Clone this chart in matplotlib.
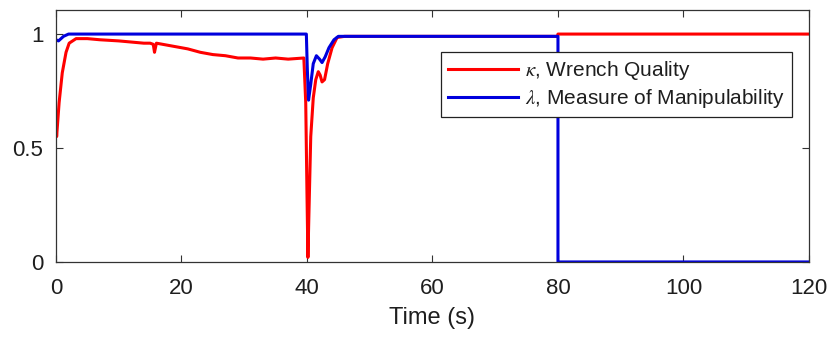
import matplotlib
matplotlib.use("Agg")
import matplotlib.pyplot as plt

plt.rcParams['font.family'] = ['Liberation Sans', 'DejaVu Sans']
plt.rcParams['mathtext.fontset'] = 'stix'

# kappa: wrench quality over time
kappa_t = [0, 0.1, 0.5, 1.0, 1.6, 2.1, 3.2, 4, 5, 7, 10, 12, 14, 15, 15.5, 15.7,
           16, 17, 19, 21, 23, 25, 27, 29, 31, 33, 35, 37, 39.5, 39.8, 40.0, 40.15,
           40.3, 40.6, 41.0, 41.4, 41.8, 42.1, 42.4, 42.8, 43.3, 44.0, 44.8, 46, 50,
           55, 60, 65, 70, 75, 79.9, 80.0, 120]
kappa_v = [0.63, 0.55, 0.70, 0.83, 0.92, 0.96, 0.98, 0.98, 0.98, 0.975, 0.97,
           0.965, 0.96, 0.96, 0.955, 0.92, 0.96, 0.955, 0.945, 0.935, 0.92, 0.91, 0.905,
           0.895, 0.895, 0.89, 0.895, 0.89, 0.895, 0.70, 0.30, 0.02, 0.20, 0.55, 0.72,
           0.80, 0.835, 0.82, 0.79, 0.80, 0.87, 0.94, 0.985, 0.99, 0.99, 0.99, 0.99,
           0.99, 0.99, 0.99, 0.99, 1.0, 1.0]

# lambda: measure of manipulability over time
lam_t = [0, 0.4, 0.8, 1.2, 2, 39.9, 40.05, 40.25, 40.6, 41.0, 41.5, 42.0, 42.4, 42.9,
         43.5, 44.3, 45, 80, 80, 120]
lam_v = [0.975, 0.97, 0.98, 0.99, 1.0, 1.0, 0.85, 0.71, 0.78, 0.87, 0.905, 0.89,
         0.875, 0.90, 0.94, 0.975, 0.99, 0.99, 0.0, 0.0]

labels = [r'$\kappa$, Wrench Quality', r'$\lambda$, Measure of Manipulability']
xticks = [0, 20, 40, 60, 80, 100, 120]
yticks = [0, 0.5, 1]
ytick_labels = ['0', '0.5', '1']

text_color = '#1e1e1e'

fig = plt.figure(figsize=(8.32, 3.38), dpi=100)
ax = fig.add_axes([0.0673, 0.225, 0.9050, 0.745])

ax.plot(kappa_t, kappa_v, color='#ff0000', lw=2.2, label=labels[0])
ax.plot(lam_t, lam_v, color='#0000dd', lw=2.2, label=labels[1])

ax.set_xlim(0, 120)
ax.set_ylim(0, 1.105)
ax.set_xticks(xticks)
ax.set_yticks(yticks)
ax.set_yticklabels(ytick_labels)
ax.tick_params(direction='in', length=5, width=0.8, top=True, right=True,
               labelsize=16, colors='#333333', labelcolor=text_color)
ax.tick_params(axis='x', pad=11.5)
ax.tick_params(axis='y', pad=9)
for s in ax.spines.values():
    s.set_linewidth(0.9)
    s.set_color('#333333')

ax.set_xlabel('Time (s)', fontsize=17, color=text_color, labelpad=6)

leg = ax.legend(loc='upper right', bbox_to_anchor=(0.978, 0.835),
                prop={'size': 15},
                handlelength=3.35, fancybox=False, framealpha=1, edgecolor='#222222',
                borderpad=0.35, labelspacing=0.25, handletextpad=0.35, borderaxespad=0)
leg.get_frame().set_linewidth(0.9)
for t in leg.get_texts():
    t.set_color(text_color)

fig.savefig('out.png', dpi=100)
